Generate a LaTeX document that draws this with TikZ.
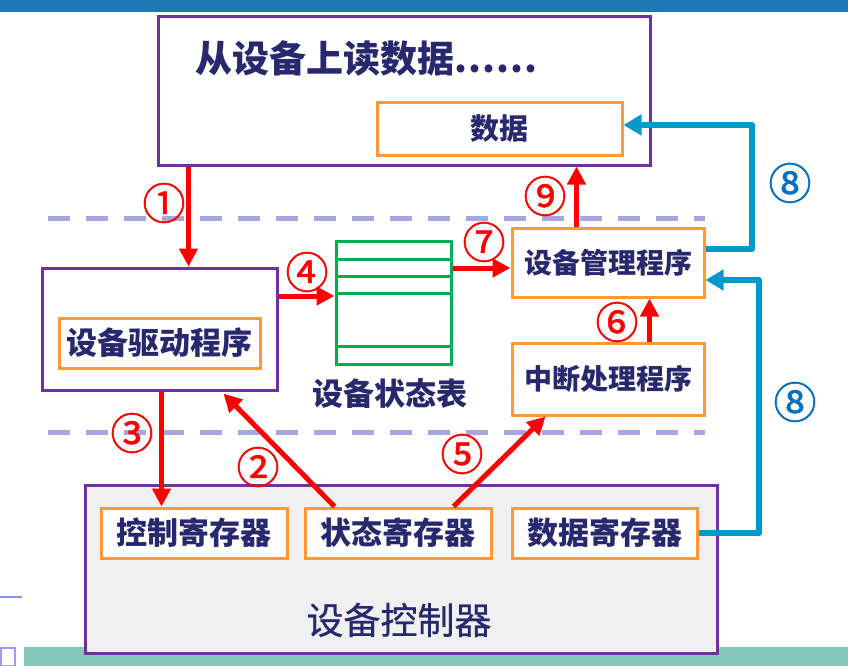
\documentclass[tikz,border=0pt]{standalone}
\usepackage{fontspec}
\newfontfamily\cjk{Noto Sans CJK SC}
\newfontfamily\cjknum[FakeBold=1.3]{Noto Sans CJK SC}
\newfontfamily\cjkmid[FakeBold=0.6]{Noto Sans CJK SC}
\usetikzlibrary{arrows.meta}
\definecolor{navy}{RGB}{40,40,110}
\definecolor{purp}{RGB}{112,48,160}
\definecolor{orng}{RGB}{255,153,51}
\definecolor{grn}{RGB}{0,176,80}
\definecolor{lav}{RGB}{166,166,224}
\definecolor{bluA}{RGB}{0,153,204}
\definecolor{bluN}{RGB}{0,112,192}
\definecolor{topbar}{RGB}{31,119,182}
\definecolor{teal}{RGB}{132,200,188}
\definecolor{ctrlfill}{RGB}{240,240,240}
\begin{document}
\begin{tikzpicture}[x=1pt,y=-1pt,
  box/.style={draw, line width=3pt, inner sep=0pt, fill=white},
  pbox/.style={box, draw=purp},
  obox/.style={box, draw=orng},
  txt/.style={font=\cjk\bfseries\fontsize{#1}{#1}\selectfont, text=navy},
  txt/.default=28,
  ra/.style={draw=red, line width=5pt, -{Triangle[length=18pt,width=18pt]}},
  ba/.style={draw=bluA, line width=6pt, line join=round, -{Triangle[length=18pt,width=20pt]}},
  num/.style={font=\cjknum\fontsize{43}{43}\selectfont, text=red, inner sep=0pt},
  bnum/.style={font=\cjknum\fontsize{43}{43}\selectfont, text=bluN, inner sep=0pt},
  sep/.style={draw=lav, line width=5pt, dash pattern=on 22pt off 16pt}
]
\useasboundingbox (0,0) rectangle (848,666);
% background decoration
\fill[topbar] (0,0) rectangle (848,12);
\fill[teal] (24,647) rectangle (848,666);
\draw[draw=blue!40, line width=1.5pt] (1,648) rectangle (15,666);
\draw[draw=blue!45, line width=2pt] (0,597) -- (22,597);
% dashed separators
\coordinate (s1a) at (48,218); \coordinate (s1b) at (705,218);
\coordinate (s2a) at (48,432); \coordinate (s2b) at (705,432);
\draw[sep] (s1a) -- (s1b);
\draw[sep] (s2a) -- (s2b);
% top box
\node[pbox, minimum width=492pt, minimum height=148pt] (top) at (404,91) {};
\node[txt=37, anchor=west, inner sep=0pt] (title) at (195,58) {从设备上读数据.\kern1pt.\kern1pt.\kern1pt.\kern1pt.\kern1pt.};
\node[obox, minimum width=245pt, minimum height=52pt, txt=29] (data) at (499.5,129) {数据};
% driver
\node[pbox, minimum width=235pt, minimum height=122pt] (driver) at (159.5,329) {};
\node[obox, minimum width=201pt, minimum height=50pt, txt=31] (drv) at (159.5,343) {设备驱动程序};
% status table
\node[draw=grn, line width=3pt, minimum width=115pt, minimum height=123pt, inner sep=0pt] (table) at (393.5,302.5) {};
\foreach \yy in {259,276,293,346} \draw[grn, line width=3pt] (table.west |- 0,\yy) -- (table.east |- 0,\yy);
\node[txt=31] (tlabel) at (390,393) {设备状态表};
% manager & interrupt
\node[obox, minimum width=192pt, minimum height=69pt, txt=28] (manager) at (608,262.5) {设备管理程序};
\node[obox, minimum width=192pt, minimum height=72pt, txt=28] (intr) at (608,379) {中断处理程序};
% controller
\node[box, draw=purp, fill=ctrlfill, minimum width=632pt, minimum height=168pt] (ctrl) at (401,569) {};
\node[obox, minimum width=186pt, minimum height=50pt, txt=31] (reg1) at (194,533) {控制寄存器};
\node[obox, minimum width=186pt, minimum height=50pt, txt=31] (reg2) at (398,533) {状态寄存器};
\node[obox, minimum width=185pt, minimum height=50pt, txt=31] (reg3) at (604.5,533) {数据寄存器};
\node[font=\cjkmid\fontsize{37}{37}\selectfont, text=navy] (clabel) at (399,620) {设备控制器};
% red arrows
\draw[ra] ([xshift=32]top.south west) -- ([xshift=148]driver.north west);
\draw[ra] ([yshift=33]driver.east) coordinate (a4) -- (a4 -| table.west);
\draw[ra] ([yshift=34.5]table.east) coordinate (a7) -- (a7 -| manager.west);
\draw[ra] ([xshift=66]manager.north west) coordinate (a9) -- (a9 |- top.south);
\draw[ra] ([xshift=139]intr.north west) coordinate (a6) -- (a6 |- manager.south);
\draw[ra] ([xshift=121]driver.south west) coordinate (a3) -- (a3 |- reg1.north);
\draw[ra] ([xshift=31]reg2.north west) -- ([xshift=183,yshift=-2]driver.south west);
\draw[ra] ([xshift=150]reg2.north west) -- ([xshift=35]intr.south west);
% blue arrows
\coordinate (u8) at (752,125);
\coordinate (l8) at (759,280);
\draw[ba] ([yshift=13.5]manager.east) -| (u8) -- ([yshift=4]data.east);
\draw[ba] (reg3.east) -| (l8) -- ([yshift=-17.5]manager.east);
% labels
\node[num] (n1) at (164,203) {①};
\node[num] (n2) at (258,467) {②};
\node[num] (n3) at (132,433) {③};
\node[num] (n4) at (307,272) {④};
\node[num] (n5) at (462,454) {⑤};
\node[num] (n6) at (617,322) {⑥};
\node[num] (n7) at (484,242) {⑦};
\node[num] (n9) at (545,196) {⑨};
\node[bnum] (n8a) at (790,183) {⑧};
\node[bnum] (n8b) at (795,402) {⑧};
\end{tikzpicture}
\end{document}
